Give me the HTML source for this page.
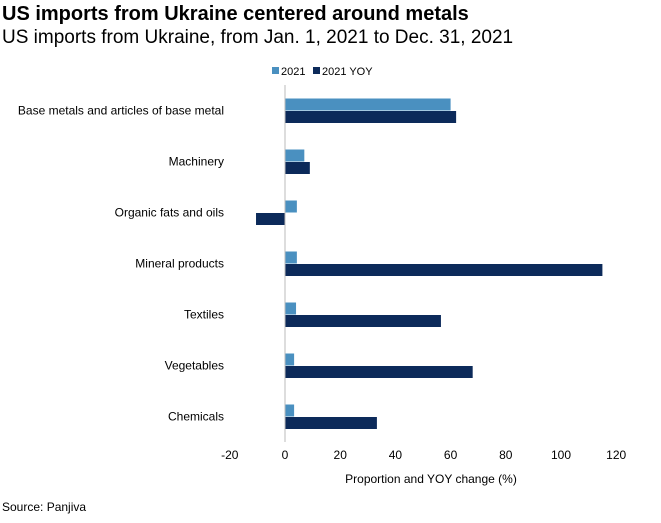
<!DOCTYPE html>
<html><head><meta charset="utf-8"><style>
body{margin:0;background:#fff;width:661px;height:518px;overflow:hidden;font-family:"Liberation Sans",sans-serif}
</style></head><body>
<svg width="661" height="518" xmlns="http://www.w3.org/2000/svg">
<text x="2" y="20" font-size="20" font-weight="bold" fill="#000">US imports from Ukraine centered around metals</text>
<text x="2" y="43" font-size="19" fill="#000">US imports from Ukraine, from Jan. 1, 2021 to Dec. 31, 2021</text>
<g>
<rect x="272" y="67" width="7" height="7" fill="#4a90c0"/>
<text x="281" y="75" font-size="11">2021</text>
<rect x="313" y="67" width="7" height="7" fill="#0c2a5a"/>
<text x="322" y="75" font-size="11">2021 YOY</text>
</g>
<g id="plot"></g>
<text x="431" y="483" font-size="12" text-anchor="middle">Proportion and YOY change (%)</text>
<text x="2" y="511" font-size="12">Source: Panjiva</text>
</svg>
<script>
const categories=["Base metals and articles of base metal","Machinery","Organic fats and oils","Mineral products","Textiles","Vegetables","Chemicals"];
const values2021=[60,7,4.3,4.3,4,3.3,3.3];
const valuesYOY=[62,9,-10.5,115,56.5,68,33.3];
const ticks=[-20,0,20,40,60,80,100,120];
const ns="http://www.w3.org/2000/svg";
const g=document.getElementById('plot');
const x=v=>285+v*2.76;
const yc=i=>110.5+i*51;
function mk(t,a){const e=document.createElementNS(ns,t);for(const k in a)e.setAttribute(k,a[k]);g.appendChild(e);return e;}
categories.forEach((c,i)=>{
 const a=mk('rect',{x:Math.min(x(0),x(values2021[i])),y:yc(i)-12,width:Math.abs(x(values2021[i])-x(0)),height:12,fill:'#4a90c0'});
 
 
 const b=mk('rect',{x:Math.min(x(0),x(valuesYOY[i])),y:yc(i)+0.5,width:Math.abs(x(valuesYOY[i])-x(0)),height:12,fill:'#0c2a5a'});
 
 
 const t=mk('text',{x:224,y:yc(i)+4,'font-size':12,'text-anchor':'end'});
 t.textContent=c;
 
 
});
const ax=mk('line',{x1:x(0),x2:x(0),y1:85,y2:442,stroke:'#bbb','stroke-width':1});


ticks.forEach(v=>{
 const t=mk('text',{x:x(v),y:459,'font-size':12,'text-anchor':'middle'});
 t.textContent=v;
 
 
});
</script>
</body></html>
